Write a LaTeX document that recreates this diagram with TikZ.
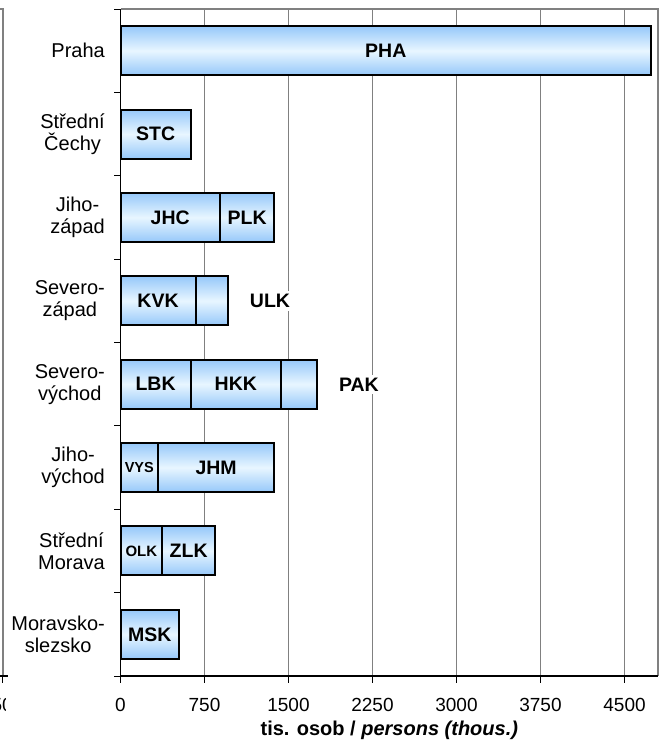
\documentclass[tikz,border=0pt]{standalone}
\usepackage{fontspec}
\setmainfont{Liberation Sans}
\usepackage{tikz}
\definecolor{bblue}{RGB}{150,200,250}
\definecolor{bpale}{RGB}{232,246,255}
\definecolor{gline}{RGB}{128,128,128}
\tikzset{
  barseg/.style={draw=black,line width=2pt,top color=bblue,bottom color=bblue,middle color=bpale},
  seglab/.style={inner sep=1pt,font=\bfseries\fontsize{#1}{21}\selectfont},
  outlab/.style={fill=white,inner sep=3pt,font=\bfseries\fontsize{19.5}{21}\selectfont},
  catlab/.style={anchor=east,align=center,inner sep=0pt,font=\fontsize{20}{22}\selectfont},
  ticklab/.style={inner sep=0pt,font=\fontsize{19}{21}\selectfont}
}
\begin{document}
\begin{tikzpicture}[x=1pt,y=-1pt]
  \useasboundingbox (0,0) rectangle (669,744);
  \draw[gline,line width=2pt] (0,9) -- (2.5,9) -- (2.5,676);
  \draw[line width=1.5pt] (0,676) -- (8,676);
  \draw[line width=1pt] (2.5,676) -- (2.5,683);
  \begin{scope}
    \clip (0,690) rectangle (5.5,720);
    \node[ticklab,anchor=east] (n750) at (13,705) {750};
  \end{scope}
  \begin{scope}[x=0.112pt,xshift=120.5pt]
    \foreach \v in {750,1500,...,4500}
      \draw[gline,line width=1pt] (\v,9) -- (\v,676);
    \foreach \r/\a/\b/\t/\f in {0/0/4737/PHA/19.5,1/0/629/STC/19.5,2/0/888/JHC/19.5,2/888/1373/PLK/19.5,
        3/0/671/KVK/19.5,3/671/957//19.5,4/0/627/LBK/19.5,4/627/1433/HKK/19.5,4/1433/1752//19.5,
        5/0/335/VYS/14.5,5/335/1373/JHM/19.5,6/0/373/OLK/15,6/373/844/ZLK/19.5,7/0/525/MSK/19.5}{
      \pgfmathsetmacro\yc{9+83.375*(\r+0.5)}
      \shade[barseg] (\a,{\yc-24.5}) rectangle (\b,{\yc+24.5});
      \node[seglab=\f] (seg\r\a) at ({(\a+\b)/2},\yc) {\t};
    }
    \node[outlab] (ULK) at (1335,300.9) {ULK};
    \node[outlab] (PAK) at (2129,384.3) {PAK};
    \draw[gline,line width=2pt] (0,9) -- (4800,9) -- (4800,676);
    \foreach \k in {0,...,8}
      \draw[line width=1pt] (0,{9+83.375*\k}) -- ++(-7pt,0);
    \foreach \v in {0,750,...,4500}{
      \draw[line width=1pt] (\v,676) -- ++(0,7);
      \node[ticklab] (t\v) at (\v,705) {\v};
    }
    \draw[line width=1.5pt] (0,9) -- (0,676) -- (4800,676);
    \node[ticklab,font=\bfseries\fontsize{20}{22}\selectfont] (xtitle) at (2400,730) {tis. osob / \textit{persons (thous.)}};
  \end{scope}
  \node[catlab] (praha) at (105,50.7) {Praha};
  \node[catlab] (stc) at (105,134.1) {Střední\\Čechy};
  \node[catlab] (jz) at (105,217.5) {Jiho-\\západ};
  \node[catlab] (sz) at (105,300.9) {Severo-\\západ};
  \node[catlab] (sv) at (105,384.3) {Severo-\\východ};
  \node[catlab] (jv) at (105,467.7) {Jiho-\\východ};
  \node[catlab] (sm) at (105,551.1) {Střední\\Morava};
  \node[catlab] (ms) at (105,634.5) {Moravsko-\\slezsko};
\end{tikzpicture}
\end{document}
